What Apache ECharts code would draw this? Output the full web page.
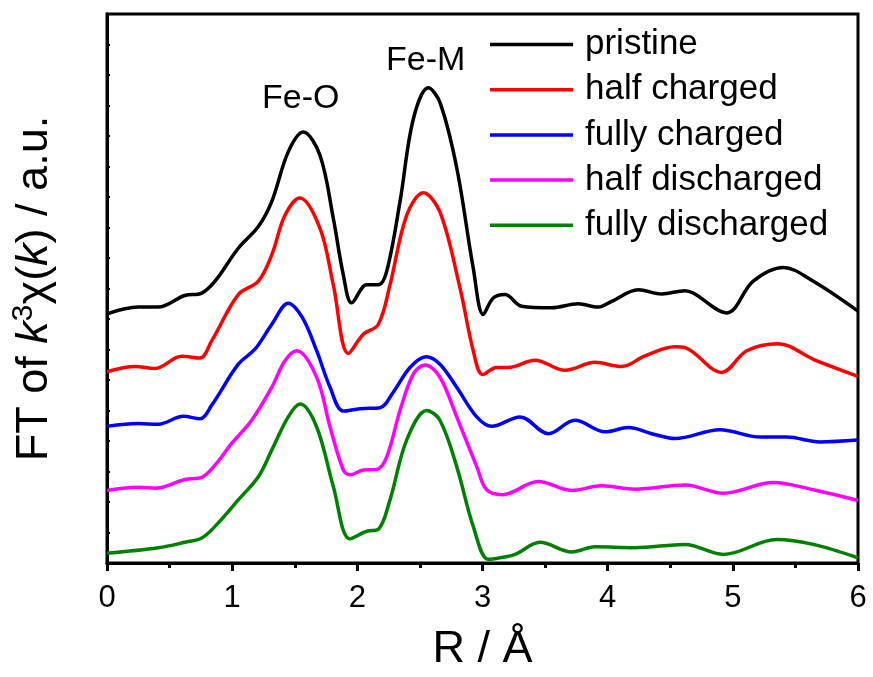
<!DOCTYPE html>
<html>
<head>
<meta charset="utf-8">
<script src="https://cdn.jsdelivr.net/npm/echarts@6/dist/echarts.min.js"></script>
<style>html,body{margin:0;padding:0;background:#fff}#c{width:873px;height:677px}</style>
</head>
<body>
<div id="c"></div>
<script>
const seriesNames = ['pristine', 'half charged', 'fully charged', 'half discharged', 'fully discharged'];
const seriesColors = ['#000000', '#ff0000', '#0000ff', '#ff00ff', '#008000'];
const xTicks = [0, 1, 2, 3, 4, 5, 6];

const pristine = [
  [0.0, 8.17], [0.25, 8.39], [0.41, 8.39], [0.62, 8.77], [0.757, 8.85], [0.863, 9.24],
  [1.049, 10.32], [1.209, 11.03], [1.316, 11.85], [1.448, 13.48], [1.568, 14.13],
  [1.702, 13.36], [1.808, 11.30], [1.888, 9.45], [1.955, 8.53], [2.075, 9.12],
  [2.167, 9.12], [2.235, 9.57], [2.341, 11.85], [2.447, 14.55], [2.567, 15.58],
  [2.660, 15.10], [2.794, 12.96], [2.926, 9.67], [3.006, 8.15], [3.086, 8.69],
  [3.180, 8.80], [3.313, 8.42], [3.553, 8.37], [3.765, 8.50], [3.925, 8.39],
  [4.032, 8.58], [4.245, 8.96], [4.432, 8.82], [4.618, 8.93], [4.684, 8.85],
  [4.951, 8.20], [5.163, 9.24], [5.403, 9.69], [5.643, 9.24], [6.0, 8.26]
];
const halfCharged = [
  [0.0, 6.27], [0.224, 6.44], [0.383, 6.38], [0.597, 6.78], [0.743, 6.72], [0.836, 7.28],
  [1.049, 8.80], [1.209, 9.24], [1.316, 10.10], [1.422, 11.40], [1.540, 11.97],
  [1.702, 10.97], [1.808, 9.12], [1.928, 6.87], [2.048, 7.50], [2.167, 7.82],
  [2.261, 9.12], [2.394, 11.40], [2.527, 12.14], [2.660, 11.51], [2.820, 9.02],
  [2.926, 6.96], [3.002, 6.18], [3.113, 6.41], [3.206, 6.41], [3.419, 6.65],
  [3.659, 6.32], [3.899, 6.58], [4.112, 6.44], [4.298, 6.79], [4.538, 7.09],
  [4.618, 7.06], [4.911, 6.25], [5.111, 6.96], [5.363, 7.19], [5.643, 6.68], [6.0, 6.12]
];
const fullyCharged = [
  [0.0, 4.48], [0.25, 4.57], [0.41, 4.55], [0.61, 4.81], [0.743, 4.73], [0.836, 5.17],
  [1.049, 6.52], [1.182, 7.01], [1.316, 7.82], [1.448, 8.52], [1.560, 8.05],
  [1.675, 6.96], [1.782, 5.76], [1.888, 4.98], [2.021, 5.06], [2.181, 5.09],
  [2.287, 5.60], [2.421, 6.41], [2.549, 6.76], [2.660, 6.52], [2.794, 5.76],
  [2.954, 4.79], [3.073, 4.48], [3.300, 4.79], [3.526, 4.24], [3.739, 4.68],
  [3.979, 4.30], [4.165, 4.44], [4.352, 4.24], [4.538, 4.08], [4.897, 4.37],
  [5.217, 4.13], [5.430, 4.13], [5.696, 3.97], [6.0, 4.03]
];
const halfDischarged = [
  [0.0, 2.38], [0.25, 2.48], [0.383, 2.45], [0.623, 2.74], [0.757, 2.81], [0.863, 3.21],
  [0.996, 3.92], [1.156, 4.68], [1.316, 5.76], [1.422, 6.63], [1.516, 6.96],
  [1.675, 6.09], [1.782, 4.46], [1.888, 3.05], [1.941, 2.89], [2.048, 3.05],
  [2.155, 3.07], [2.235, 3.48], [2.341, 5.00], [2.447, 6.19], [2.541, 6.49],
  [2.660, 6.09], [2.794, 4.79], [2.954, 3.16], [3.033, 2.40], [3.160, 2.24],
  [3.446, 2.67], [3.713, 2.38], [3.952, 2.53], [4.218, 2.42], [4.618, 2.56],
  [4.924, 2.29], [5.323, 2.64], [5.643, 2.40], [6.0, 2.05]
];
const fullyDischarged = [
  [0.0, 0.32], [0.41, 0.50], [0.623, 0.68], [0.757, 0.82], [0.863, 1.20],
  [1.049, 2.07], [1.209, 2.83], [1.316, 3.70], [1.448, 4.79], [1.542, 5.21],
  [1.675, 4.46], [1.808, 2.51], [1.941, 0.79], [2.075, 1.04], [2.167, 1.10],
  [2.261, 2.07], [2.394, 4.03], [2.554, 5.00], [2.660, 4.68], [2.794, 3.16],
  [2.926, 1.20], [3.046, 0.12], [3.140, 0.17], [3.260, 0.28], [3.459, 0.68],
  [3.713, 0.36], [3.899, 0.53], [4.218, 0.50], [4.618, 0.61], [4.924, 0.28],
  [5.350, 0.77], [5.643, 0.61], [6.0, 0.17]
];
const seriesData = [pristine, halfCharged, fullyCharged, halfDischarged, fullyDischarged];

const FONT = '"Liberation Sans", Arial, sans-serif';
const chart = echarts.init(document.getElementById('c'), null, {renderer: 'canvas'});
chart.setOption({
  animation: false,
  backgroundColor: '#ffffff',
  grid: {left: 107, right: 15, top: 14, bottom: 110, show: true, borderColor: '#000', borderWidth: 3, backgroundColor: 'transparent'},
  legend: {
    left: 490, top: 27, orient: 'vertical', padding: 0,
    icon: 'rect', itemWidth: 83, itemHeight: 3.5, itemGap: 10.2,
    data: seriesNames,
    textStyle: {fontFamily: FONT, fontSize: 35, color: '#000', padding: [0, 0, 0, 7]}
  },
  xAxis: {
    type: 'value', min: 0, max: 6, interval: 1,
    name: 'R / Å', nameLocation: 'middle', nameGap: 64,
    nameTextStyle: {fontFamily: FONT, fontSize: 45, color: '#000'},
    axisLine: {onZero: false, lineStyle: {color: '#000', width: 3}},
    axisTick: {show: true, inside: false, length: 8, lineStyle: {color: '#000', width: 3}},
    minorTick: {show: true, splitNumber: 2, length: 5, lineStyle: {color: '#000', width: 3}},
    axisLabel: {fontFamily: FONT, fontSize: 31, color: '#000', margin: 20,
      formatter: v => xTicks.includes(v) ? String(v) : ''},
    splitLine: {show: false}
  },
  yAxis: {
    type: 'value', min: 0, max: 18, interval: 1,
    name: '{n|FT of }{i|k}{s|3}{n|χ(}{i|k}{n|) / a.u.}',
    nameLocation: 'middle', nameGap: 50, nameRotate: 90,
    nameTextStyle: {
      fontFamily: FONT, fontSize: 45, color: '#000',
      rich: {
        n: {fontFamily: FONT, fontSize: 45, color: '#000', verticalAlign: 'bottom'},
        i: {fontFamily: FONT, fontSize: 45, color: '#000', fontStyle: 'italic', verticalAlign: 'bottom'},
        s: {fontFamily: FONT, fontSize: 30, color: '#000', verticalAlign: 'bottom', padding: [0, 0, 18, 0]}
      }
    },
    axisLine: {lineStyle: {color: '#000', width: 3}},
    axisTick: {show: true, inside: true, length: 3, lineStyle: {color: '#000', width: 2}},
    axisLabel: {show: false},
    splitLine: {show: false}
  },
  graphic: [
    {type: 'text', left: 262, top: 82, style: {text: 'Fe-O', font: '34px ' + FONT, fill: '#000'}},
    {type: 'text', left: 386, top: 44, style: {text: 'Fe-M', font: '34px ' + FONT, fill: '#000'}}
  ],
  series: seriesNames.map((name, k) => ({
    name: name, type: 'line', data: seriesData[k],
    smooth: 0.35, symbol: 'none', showSymbol: false,
    lineStyle: {color: seriesColors[k], width: 3.5},
    itemStyle: {color: seriesColors[k]}
  }))
});
</script>
</body>
</html>
